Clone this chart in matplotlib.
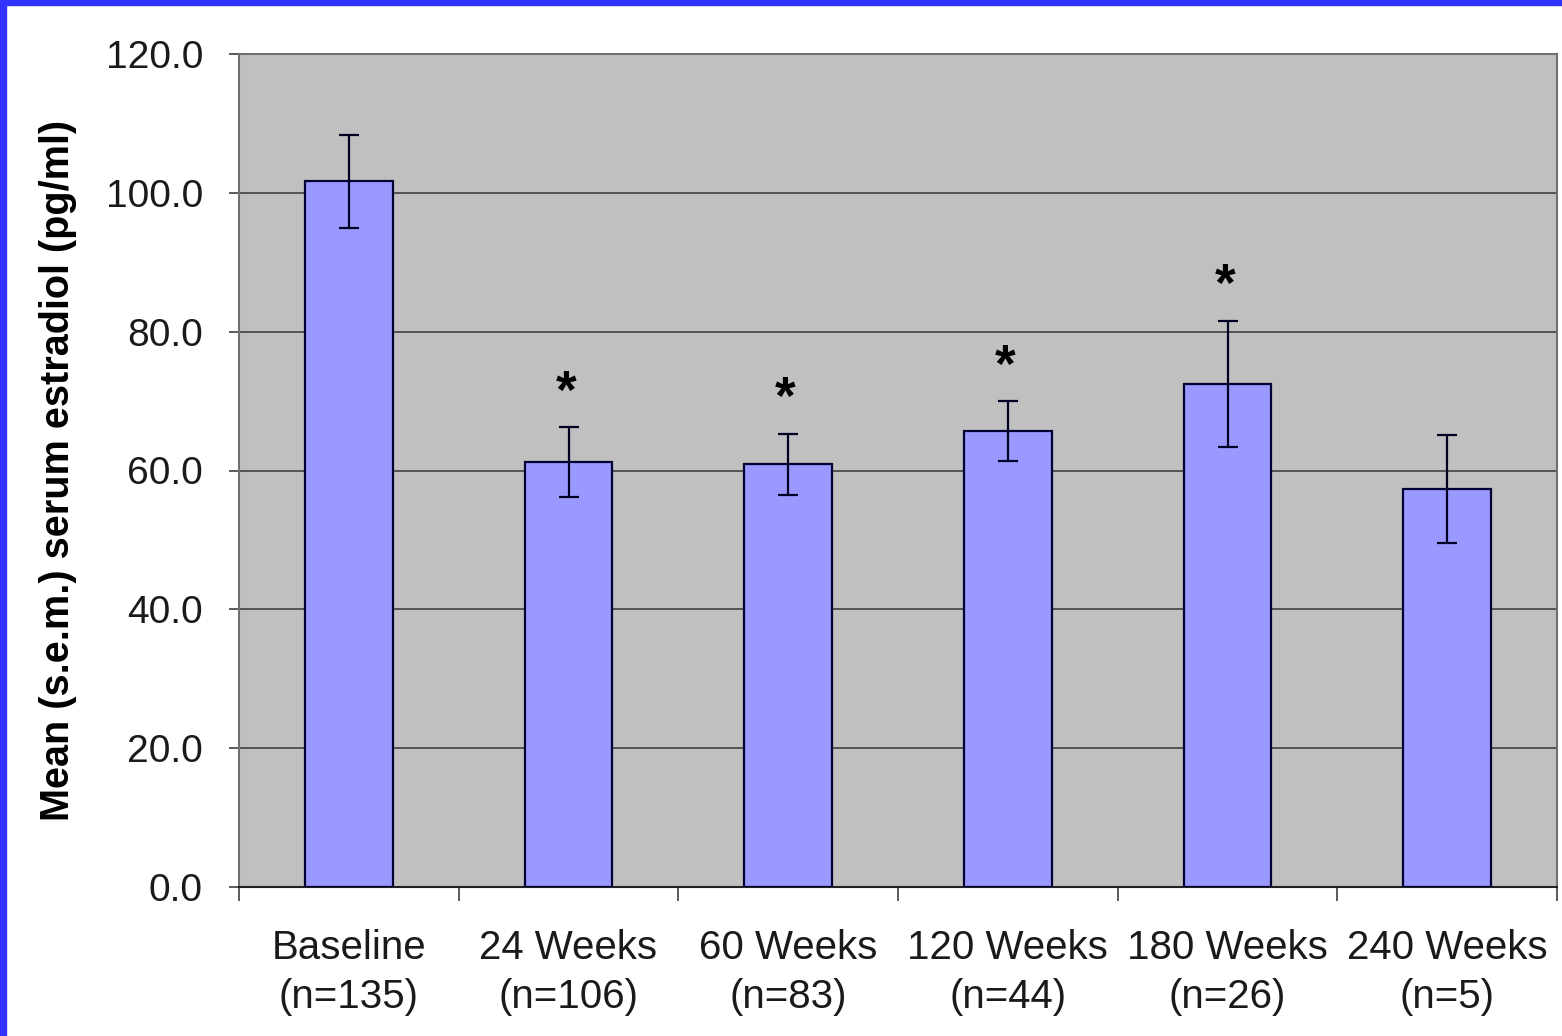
import matplotlib
matplotlib.use("Agg")
import matplotlib.pyplot as plt
import numpy as np
from matplotlib.patches import Rectangle

# Serum estradiol over follow-up
groups = ["Baseline", "24 Weeks", "60 Weeks", "120 Weeks", "180 Weeks", "240 Weeks"]
n_counts = [135, 106, 83, 44, 26, 5]
mean_e2 = [101.7, 61.2, 60.9, 65.7, 72.5, 57.3]
sem_e2 = [6.7, 5.0, 4.4, 4.3, 9.1, 7.8]
significant = [False, True, True, True, True, False]

BAR = "#9999FF"
PLOT_BG = "#C0C0C0"
BORDER = "#3333FF"

plt.rcParams["font.family"] = ["Liberation Sans", "DejaVu Sans"]

fig = plt.figure(figsize=(15.62, 10.36), dpi=100)
ax = fig.add_axes([239 / 1562, 1 - 887 / 1036, 1318 / 1562, 833 / 1036])
ax.set_facecolor(PLOT_BG)

x = np.arange(len(groups))
ax.bar(x, mean_e2, width=0.4, color=BAR, edgecolor="#000033", linewidth=1.6, zorder=3)
ax.errorbar(x, mean_e2, yerr=sem_e2, fmt="none", ecolor="#000022",
            elinewidth=1.6, capsize=7, capthick=1.6, zorder=4)

for xi, m, s, sig in zip(x, mean_e2, sem_e2, significant):
    if sig:
        ax.annotate("*", xy=(xi, m + s), xytext=(-2, 6), textcoords="offset points",
                    ha="center", va="bottom", fontsize=38, fontweight="bold")

ax.set_xlim(-0.5, len(groups) - 0.5)
ax.set_ylim(0, 120)
ax.set_yticks(np.arange(0, 121, 20))
ax.set_yticklabels([f"{v:.1f}" for v in np.arange(0, 121, 20)])
ax.yaxis.grid(True, color="#404040", linewidth=1.2, zorder=0)
ax.set_axisbelow(True)

# category labels centred, tick marks on category boundaries
ax.set_xticks(x)
ax.set_xticklabels([f"{g}\n(n={n})" for g, n in zip(groups, n_counts)], linespacing=1.38)
ax.tick_params(axis="x", length=0, pad=30, labelsize=29, colors="#1a1a1a")
ax.set_xticks(np.arange(-0.5, len(groups)), minor=True)
ax.tick_params(axis="x", which="minor", length=10, width=1.2, color="#404040", direction="out")
ax.tick_params(axis="y", length=7, width=1.2, color="#404040", labelsize=28, pad=19,
               labelcolor="#1a1a1a")

for side in ["left", "top", "right"]:
    ax.spines[side].set_color("#707070")
    ax.spines[side].set_linewidth(1.5)
ax.spines["bottom"].set_color("#202020")
ax.spines["bottom"].set_linewidth(1.5)

ax.set_ylabel("Mean (s.e.m.) serum estradiol (pg/ml)", fontsize=28.5, fontweight="bold")
ax.yaxis.label.set_va("center")
ax.yaxis.set_label_coords(-0.1373, 0.5)

# slide border strips
fig.patches.append(Rectangle((0, 0), 6 / 1562, 1, transform=fig.transFigure,
                             color=BORDER, zorder=10))
fig.patches.append(Rectangle((0, 1 - 5 / 1036), 1, 5 / 1036, transform=fig.transFigure,
                             color=BORDER, zorder=10))

fig.savefig("out.png", dpi=100)
